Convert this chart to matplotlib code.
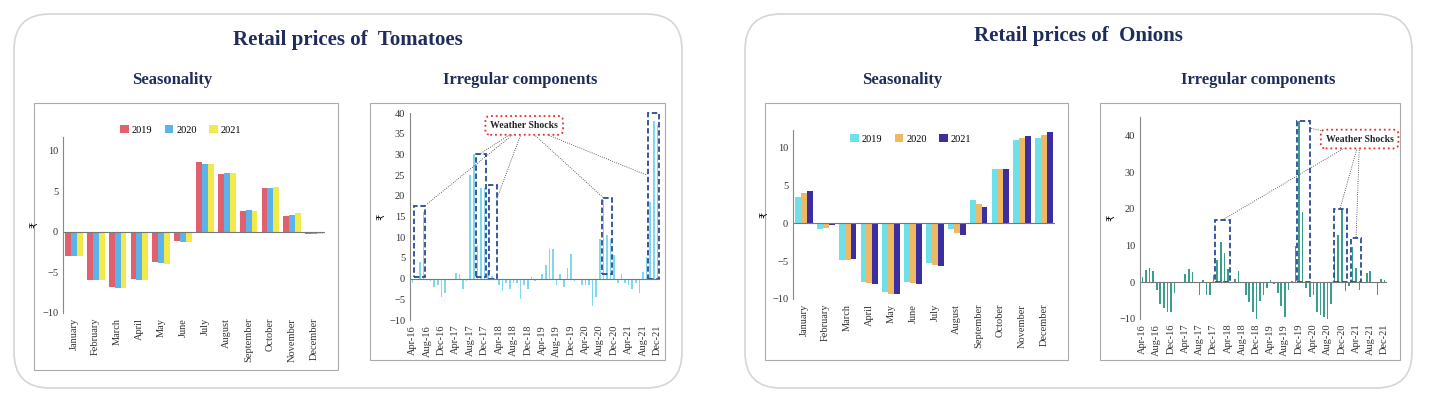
import matplotlib
matplotlib.use("Agg")
import matplotlib.pyplot as plt
from matplotlib.patches import FancyBboxPatch, Rectangle
import numpy as np

months = ["January","February","March","April","May","June","July","August",
          "September","October","November","December"]
years = ["2019","2020","2021"]
tom_season = {
    "2019": [-3.0,-5.9,-6.8,-5.8,-3.7,-1.1,8.6,7.1,2.6,5.4,2.0,-0.3],
    "2020": [-3.0,-5.9,-6.9,-5.9,-3.8,-1.2,8.4,7.2,2.7,5.4,2.1,-0.3],
    "2021": [-3.0,-5.9,-6.9,-5.9,-3.9,-1.2,8.4,7.3,2.6,5.5,2.3,-0.2],
}
oni_season = {
    "2019": [3.5,-0.8,-4.9,-7.8,-9.1,-7.8,-5.3,-0.8,3.0,7.2,11.0,11.2],
    "2020": [4.0,-0.6,-4.9,-7.9,-9.3,-7.9,-5.5,-1.3,2.5,7.2,11.2,11.7],
    "2021": [4.3,-0.3,-4.7,-8.0,-9.3,-8.0,-5.7,-1.6,2.2,7.2,11.5,12.0],
}
mon_abbr = ["Jan","Feb","Mar","Apr","May","Jun","Jul","Aug","Sep","Oct","Nov","Dec"]
dates = [f"{mon_abbr[(3+i)%12]}-{16+(3+i)//12}" for i in range(69)]
tom_irr = [-1,0,4,16,0,-0.5,-2,-1.5,-4.5,-3.5,0,0,1.3,1,-2.5,-0.5,
           25,30,8,22,22,1.8,0.7,0,-1.5,-3,-1,-2.5,-1,-1,-5,-1.5,
           -2.5,0.3,-0.7,0,1,3.2,7.2,7.2,-1.5,1.2,-2,2.5,6,-0.5,0,-1.5,
           -1.5,-1.5,-6.5,-4.5,9.5,19,10.5,9.5,5.8,-1,1.2,-1,-1.5,-2.5,
           -1,-3.5,1.5,5.3,18.5,38,37]
oni_irr = [1.5,3.3,3.8,3.2,-2,-6,-7,-8,-8,-3,0,0,2.3,3.5,2.7,0,
           -3.5,0.7,-3.5,-3.5,2,6,11,8,3.5,0,1,3.2,0,-3.5,-5.5,-8,
           -10,-5,-3.5,-1.5,0.7,-0.5,-3,-6.5,-9.5,-2,0.3,10,44,19,-1.5,-4,
           -3.5,-8,-9,-9.5,-10,-6,8,13,20,-2.5,-1,9.5,4,-2,0,2.5,
           3,0,-3.5,1,0.5]

W, H = 1432, 400
fig = plt.figure(figsize=(W/100, H/100), dpi=100)
serif = "Liberation Serif"
navy = "#1f2d5c"

def fr(x0, y0, x1, y1):
    return [x0/W, 1-y1/H, (x1-x0)/W, (y1-y0)/H]

# cards
for x0, x1 in [(14, 682), (745, 1412)]:
    fig.patches.append(FancyBboxPatch((x0/W, 12/H), (x1-x0)/W, (388-14)/H,
        boxstyle="round,pad=0,rounding_size=0.025", transform=fig.transFigure,
        fc="white", ec="#d6d6d6", lw=1.2, mutation_aspect=W/H, zorder=-5))
# chart frames
for x0, y0, x1, y1 in [(34,103,338,370),(370,103,665,360),(765,103,1068,360),(1100,103,1400,360)]:
    fig.patches.append(Rectangle((x0/W, 1-y1/H), (x1-x0)/W, (y1-y0)/H,
        transform=fig.transFigure, fc="white", ec="#aaaaaa", lw=0.8, zorder=-4))

fig.text(348/W, 1-40/H, "Retail prices of  Tomatoes", ha="center", va="center",
         fontsize=15, fontweight="bold", color=navy, family=serif)
fig.text(1078/W, 1-36/H, "Retail prices of  Onions", ha="center", va="center",
         fontsize=15, fontweight="bold", color=navy, family=serif)
for x, y, s in [(172,80,"Seasonality"),(520,80,"Irregular components"),
                (902,80,"Seasonality"),(1258,80,"Irregular components")]:
    fig.text(x/W, 1-y/H, s, ha="center", va="center", fontsize=12,
             fontweight="bold", color=navy, family=serif)

def style(ax):
    for s in ["top","right"]:
        ax.spines[s].set_visible(False)
    ax.spines["left"].set_color("#888888")
    ax.spines["bottom"].set_visible(False)
    ax.tick_params(length=0, labelsize=7.5, colors="#333333")
    for lab in ax.get_xticklabels()+ax.get_yticklabels():
        lab.set_family(serif)
    ax.set_ylabel("₹", fontsize=7, labelpad=2, family="DejaVu Sans")
    ax.set_facecolor("none")

def season(rect, data, colors, ylim, legy):
    ax = fig.add_axes(rect)
    x = np.arange(12)
    w = 0.27
    for k, y in enumerate(years):
        ax.bar(x+(k-1)*w, data[y], w, color=colors[k], label=y)
    ax.axhline(0, color="#777777", lw=0.8)
    ax.set_xlim(-0.5, 11.5)
    ax.set_ylim(*ylim)
    ax.set_yticks([-10,-5,0,5,10])
    ax.set_xticks(x)
    ax.set_xticklabels(months, rotation=90)
    style(ax)
    ax.legend(loc="upper center", bbox_to_anchor=(0.45, legy), ncol=3, frameon=False,
              handlelength=0.8, handleheight=0.8, columnspacing=1.2,
              handletextpad=0.3, prop={"family": serif, "size": 7.5})
    return ax

season(fr(63,137,325,313), tom_season, ["#e06070","#5ab4ea","#f2ea4a"], (-10,11.7), 1.12)
season(fr(793,130,1055,299), oni_season, ["#6ee0ea","#f0b860","#3a2ea0"], (-10,12.3), 1.03)

def irregular(rect, vals, color, ylim, yticks, boxes, callout, links):
    ax = fig.add_axes(rect)
    x = np.arange(len(vals))
    ax.bar(x, vals, 0.45, color=color)
    ax.axhline(0, color="#777777", lw=0.8)
    ax.set_xlim(-0.7, 68.7)
    ax.set_ylim(*ylim)
    ax.set_yticks(yticks)
    ax.set_xticks(x[::4])
    ax.set_xticklabels(dates[::4], rotation=90)
    style(ax)
    for (a, b, lo, hi) in boxes:
        ax.add_patch(Rectangle((a, lo), b-a, hi-lo, fill=False, ec="#2a4a9a",
                               ls=(0,(3,1.5)), lw=1.3, clip_on=False))
    cx, cy = callout
    for (px, py) in links:
        ax.plot([cx, px], [cy, py], color="#333333", lw=0.6, ls=":", clip_on=False)
    ax.text(cx, cy, "Weather Shocks", ha="center", va="center", fontsize=7,
            fontweight="bold", family=serif, color="#222222",
            bbox=dict(boxstyle="round,pad=0.5", fc="white", ec="#e03030", ls=":", lw=1.3),
            zorder=5)
    return ax

irregular(fr(410,113,660,320), tom_irr, "#7fd8ee", (-10,40), range(-10,41,5),
          [(0.3,3.5,0.5,17.5),(17.5,20.5,0.5,30),(21.3,23.5,0,22.5),(52.5,55.5,1,19.5),(65.5,68.5,0,40)],
          (31,37), [(4,18),(18.5,30),(23.3,19),(53,19.5),(65,25)])
irregular(fr(1140,117,1387,319), oni_irr, "#3a9e8f", (-10,45), range(-10,41,10),
          [(20.5,24.5,0,17),(43.3,47,0,44),(53.8,57.5,0,20),(58.5,61.3,0,12)],
          (61,39), [(22.5,17),(47,42),(55.5,20),(60,12)])

fig.savefig("out.png", dpi=100)
